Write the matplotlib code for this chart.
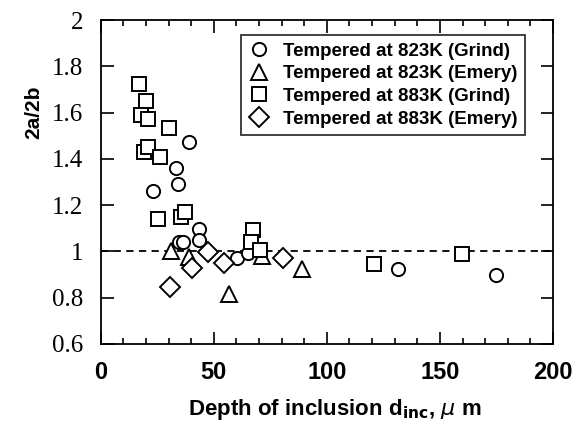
import matplotlib
matplotlib.use('Agg')
import matplotlib.pyplot as plt
from matplotlib.ticker import MultipleLocator

# Tempered at 823K (Grind)
grind_823_x = [23.2, 33.2, 34.1, 34.7, 36.4, 39.1, 43.5, 43.5, 60.4, 65.1, 131.6, 174.9]
grind_823_y = [1.261, 1.362, 1.29, 1.042, 1.042, 1.471, 1.095, 1.049, 0.97, 0.992, 0.924, 0.897]

# Tempered at 823K (Emery)
emery_823_x = [31.3, 39.1, 56.7, 71.4, 88.9]
emery_823_y = [1.003, 0.977, 0.816, 0.98, 0.924]

# Tempered at 883K (Grind)
grind_883_x = [17.0, 20.0, 17.9, 21.0, 30.0, 19.1, 21.0, 26.2, 25.4, 35.3, 37.2,
               67.3, 66.3, 70.3, 121.0, 159.7]
grind_883_y = [1.722, 1.651, 1.589, 1.571, 1.532, 1.431, 1.45, 1.409, 1.14, 1.15, 1.169,
               1.092, 1.042, 1.006, 0.944, 0.987]

# Tempered at 883K (Emery)
emery_883_x = [30.6, 40.4, 47.5, 54.5, 80.5]
emery_883_y = [0.847, 0.927, 0.999, 0.949, 0.97]

y_ticks = [0.6, 0.8, 1.0, 1.2, 1.4, 1.6, 1.8, 2.0]
y_ticklabels = ['0.6', '0.8', '1', '1.2', '1.4', '1.6', '1.8', '2']

sans = 'Liberation Sans'
serif = 'Liberation Serif'

fig = plt.figure(figsize=(5.81, 4.23), dpi=100)
ax = fig.add_axes([0.1733, 0.1868, 0.7785, 0.7659])

mkw = dict(linestyle='none', markerfacecolor='white', markeredgecolor='black',
           markeredgewidth=1.4)
ax.axhline(1.0, color='black', linestyle=(0, (4, 3)), linewidth=1.3, zorder=1)
ax.plot(grind_823_x, grind_823_y, marker='o', markersize=9.5, label='Tempered at 823K (Grind)', **mkw)
ax.plot(emery_823_x, emery_823_y, marker='^', markersize=11, label='Tempered at 823K (Emery)', **mkw)
ax.plot(grind_883_x, grind_883_y, marker='s', markersize=9.5, label='Tempered at 883K (Grind)', **mkw)
ax.plot(emery_883_x, emery_883_y, marker='D', markersize=10, label='Tempered at 883K (Emery)', **mkw)

ax.set_xlim(0, 200)
ax.set_ylim(0.6, 2.0)
ax.xaxis.set_major_locator(MultipleLocator(50))
ax.xaxis.set_minor_locator(MultipleLocator(10))
ax.set_yticks(y_ticks)
ax.set_yticklabels(y_ticklabels)

ax.tick_params(which='both', direction='in', top=True, right=True, width=1.2)
ax.tick_params(which='major', length=9)
ax.tick_params(which='minor', length=4.5)
ax.tick_params(axis='x', labelsize=17, pad=12)
ax.tick_params(axis='y', labelsize=18, pad=12.5)
for lab in ax.get_xticklabels():
    lab.set_fontfamily(sans)
    lab.set_fontweight('bold')
for lab in ax.get_yticklabels():
    lab.set_fontfamily(serif)
for sp in ax.spines.values():
    sp.set_linewidth(1.3)

ax.set_xlabel(r'Depth of inclusion d$_{\mathbf{inc}}$, $\mu$ m', fontsize=16,
              fontfamily=sans, fontweight='bold')
ax.xaxis.set_label_coords(0.518, -0.163)
ax.set_ylabel('2a/2b', fontsize=15, fontfamily=sans, fontweight='bold')
ax.yaxis.set_label_coords(-0.127, 0.716)

leg = ax.legend(loc='upper left', bbox_to_anchor=(0.31, 0.954), frameon=True,
                fancybox=False, edgecolor='black', borderpad=0.4, labelspacing=0.3,
                handlelength=1.16, handletextpad=0.66, borderaxespad=0.0,
                prop={'family': sans, 'size': 13.5, 'weight': 'bold'})
leg.get_frame().set_linewidth(1.3)

fig.savefig('out.png', dpi=100)
